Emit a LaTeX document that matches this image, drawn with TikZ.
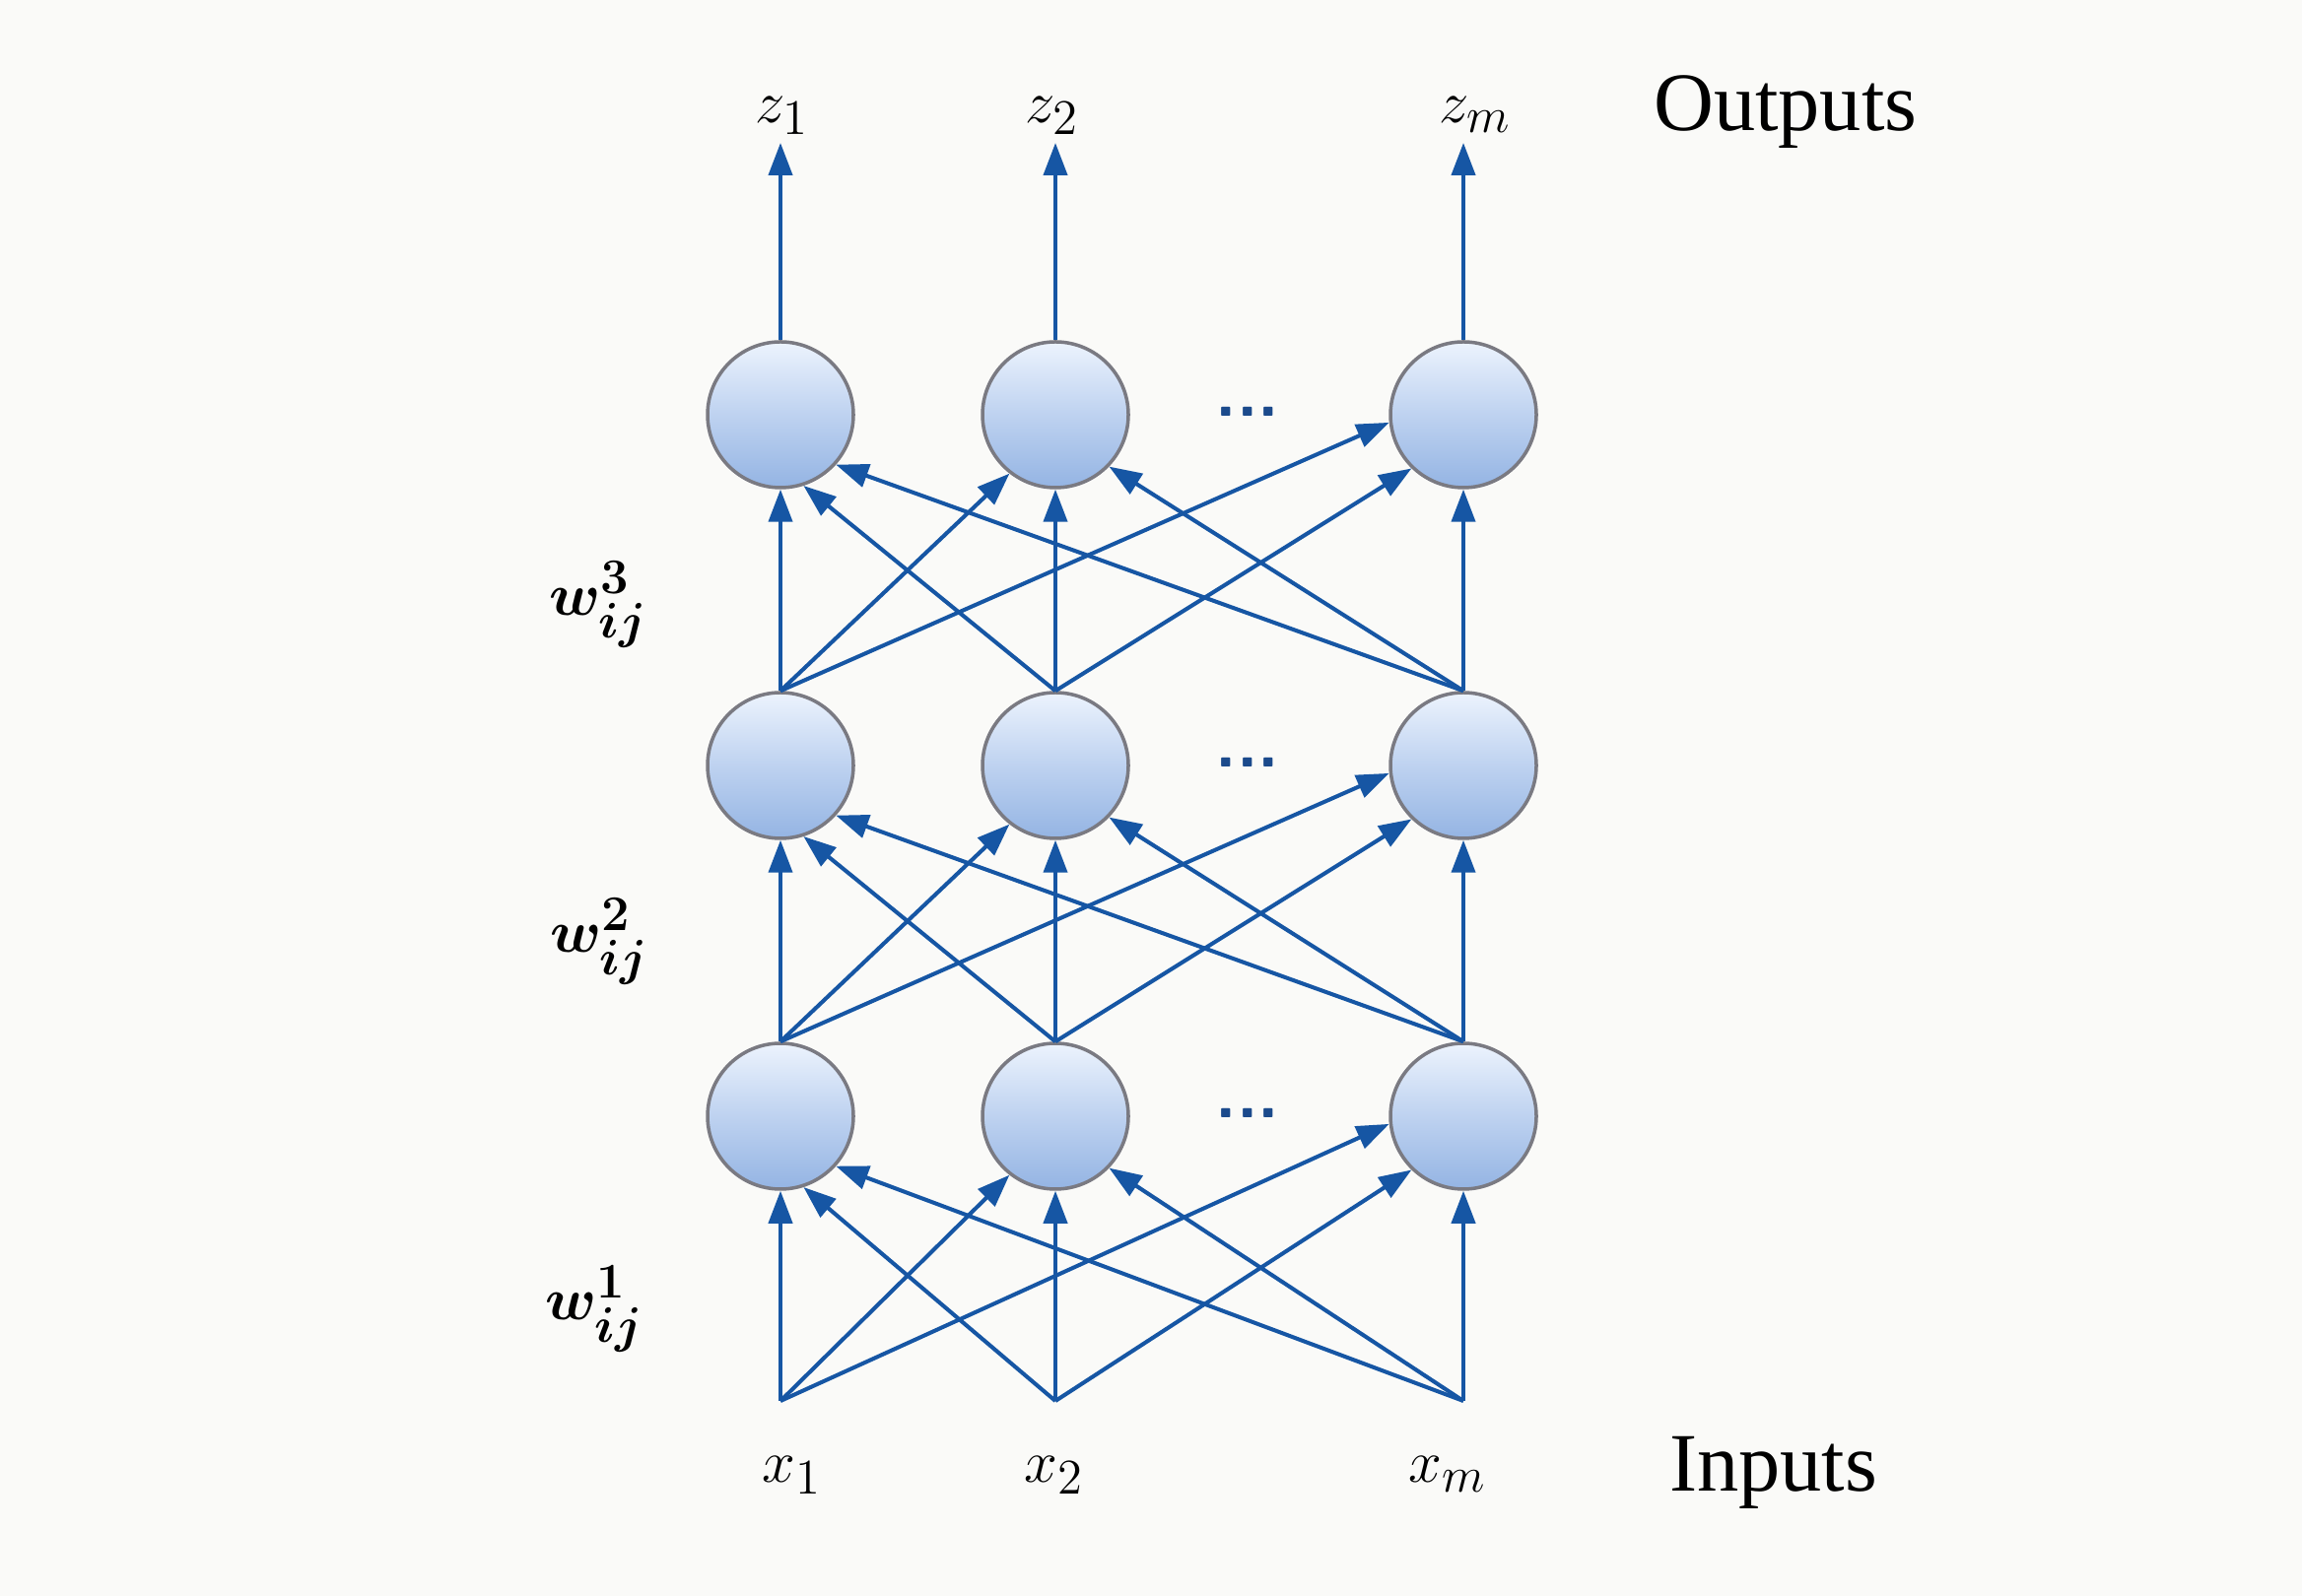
\documentclass[tikz,border=0pt]{standalone}
\usepackage{amsmath}
\usepackage{bm}
\usepackage{fontspec}
\usepackage{xcolor}
\usepackage{tikz}
\usetikzlibrary{arrows.meta}

\newfontfamily\labelfont{Liberation Serif}
\definecolor{paper}{RGB}{250,250,248}
\definecolor{edgeblue}{RGB}{22,86,164}
\definecolor{dotblue}{RGB}{27,74,140}
\definecolor{rimgray}{RGB}{122,122,130}
\definecolor{cellTop}{RGB}{236,243,253}
\definecolor{cellMid}{RGB}{190,210,240}
\definecolor{cellBot}{RGB}{148,180,227}

\begin{document}
\begin{tikzpicture}[thick,
		neuron/.style = {circle, draw=rimgray, line width=1pt, minimum size=1.48cm, inner sep=0pt,
			top color=cellTop, bottom color=cellBot, middle color=cellMid},
		link/.style = {color=edgeblue, line width=1.15pt, line join=round, -{Triangle[length=0.33cm, width=0.24cm]}},
		sym/.style = {font=\fontsize{19}{23}\selectfont, anchor=base},
		word/.style = {font=\labelfont\fontsize{24}{28}\selectfont, anchor=base west},
		dots/.style = {text=dotblue, font=\sffamily\bfseries\fontsize{20}{24}\selectfont}]
		\fill[paper] (0,0) rectangle (23.36,16.2);
		
		% layers, bottom to top
		\node[neuron] (n11) at (7.92,4.87) {};
		\node[neuron] (n12) at (10.71,4.87) {};
		\node[neuron] (n1m) at (14.85,4.87) {};
		\node[neuron] (n21) at (7.92,8.43) {};
		\node[neuron] (n22) at (10.71,8.43) {};
		\node[neuron] (n2m) at (14.85,8.43) {};
		\node[neuron] (n31) at (7.92,11.99) {};
		\node[neuron] (n32) at (10.71,11.99) {};
		\node[neuron] (n3m) at (14.85,11.99) {};
		
		\node[dots] (d1) at (12.66,4.90) {...};
		\node[dots] (d2) at (12.66,8.46) {...};
		\node[dots] (d3) at (12.66,12.02) {...};
		
		\coordinate (x1) at (7.92,1.98);
		\coordinate (x2) at (10.71,1.98);
		\coordinate (xm) at (14.85,1.98);
		\coordinate (z1) at (7.92,14.75);
		\coordinate (z2) at (10.71,14.75);
		\coordinate (zm) at (14.85,14.75);
		
		% labels
		\node[sym] (lz1) at (7.94,14.95) {$z_1$};
		\node[sym] (lz2) at (10.68,14.95) {$z_2$};
		\node[sym] (lzm) at (14.97,14.95) {$z_m$};
		\node[word] (outs) at (16.65,14.87) {Outputs};
		\node[sym] (lx1) at (8.04,1.15) {$x_1$};
		\node[sym] (lx2) at (10.70,1.15) {$x_2$};
		\node[sym] (lxm) at (14.69,1.15) {$x_m$};
		\node[word] (ins) at (16.81,1.06) {Inputs};
		\node[sym] (w3) at (6.07,9.95) {$\bm{w^3_{ij}}$};
		\node[sym] (w2) at (6.08,6.53) {$\bm{w^2_{ij}}$};
		\node[sym] (w1) at (6.03,2.80) {$\bm{w^1_{ij}}$};
		
		\begin{scope}[every path/.style={link}]
			% inputs -> first layer
			\draw (x1) -- (n11.270);
			\draw (x1) -- (n12.232);
			\draw (x1) -- (n1m.186);
			\draw (x2) -- (n11.288);
			\draw (x2) -- (n12.270);
			\draw (x2) -- (n1m.226);
			\draw (xm) -- (n11.318);
			\draw (xm) -- (n12.316);
			\draw (xm) -- (n1m.270);
			% first -> second layer
			\draw (n11.north) -- (n21.270);
			\draw (n11.north) -- (n22.232);
			\draw (n11.north) -- (n2m.186);
			\draw (n12.north) -- (n21.288);
			\draw (n12.north) -- (n22.270);
			\draw (n12.north) -- (n2m.226);
			\draw (n1m.north) -- (n21.318);
			\draw (n1m.north) -- (n22.316);
			\draw (n1m.north) -- (n2m.270);
			% second -> third layer
			\draw (n21.north) -- (n31.270);
			\draw (n21.north) -- (n32.232);
			\draw (n21.north) -- (n3m.186);
			\draw (n22.north) -- (n31.288);
			\draw (n22.north) -- (n32.270);
			\draw (n22.north) -- (n3m.226);
			\draw (n2m.north) -- (n31.318);
			\draw (n2m.north) -- (n32.316);
			\draw (n2m.north) -- (n3m.270);
			% outputs
			\draw (n31.north) -- (z1);
			\draw (n32.north) -- (z2);
			\draw (n3m.north) -- (zm);
		\end{scope}
	\end{tikzpicture}
\end{document}
